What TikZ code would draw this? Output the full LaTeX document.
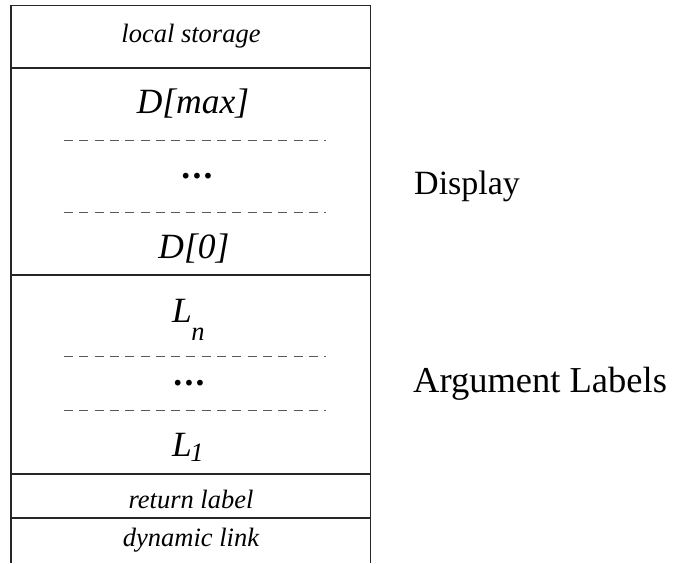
\documentclass[tikz,border=0pt]{standalone}
\usepackage{fontspec}
\setmainfont{Liberation Serif}
\newcommand{\spreaddots}{.\kern2.2pt.\kern2.2pt.}
\begin{document}
\begin{tikzpicture}[x=1pt,y=-1pt,
  frame/.style={line width=1.3pt,draw=black!85},
  sep/.style={line width=0.9pt,draw=black!65,dash pattern=on 9pt off 6.3pt},
  small/.style={font=\fontsize{26.5}{30}\selectfont\itshape,anchor=base,inner sep=0pt},
  big/.style={font=\fontsize{35.5}{40}\selectfont\itshape,anchor=base,inner sep=0pt},
  dots/.style={font=\fontsize{35.5}{40}\selectfont\bfseries,anchor=base,inner sep=0pt},
  side/.style={font=\fontsize{34}{40}\selectfont,anchor=base west,inner sep=0pt}]
\useasboundingbox (0,0) rectangle (677,563);
% outer frame, open at the bottom
\draw[frame] (11,563) -- (11,5.5) -- (370.5,5.5) -- (370.5,563);
\draw[frame] (11,68) -- (370.5,68);
\draw[frame] (11,275) -- (370.5,275);
\draw[frame] (11,474) -- (370.5,474);
\draw[frame] (11,518) -- (370.5,518);
% dashed separators
\draw[sep] (64,140) -- (326,140);
\draw[sep] (64,212) -- (326,212);
\draw[sep] (64,356) -- (326,356);
\draw[sep] (64,410) -- (326,410);
% cell contents
\node[small] (local) at (191,42) {local storage};
\node[big] (dmax) at (193,113) {D[max]};
\node[dots] (ddots) at (197,178) {\spreaddots};
\node[big] (dzero) at (194,258) {D[0]};
\node[big] (ln) at (182,322) {L};
\node[small] (lnsub) at (198,340) {n};
\node[dots] (ldots) at (189,385) {\spreaddots};
\node[big] (lone) at (182,456) {L};
\node[small] (lonesub) at (197,461) {1};
\node[small] (ret) at (191,508) {return label};
\node[small] (dyn) at (191,546) {dynamic link};
% group labels
\node[side] (disp) at (414,194) {Display};
\node[side,font=\fontsize{36.5}{40}\selectfont] (args) at (413,392) {Argument Labels};
\end{tikzpicture}
\end{document}
